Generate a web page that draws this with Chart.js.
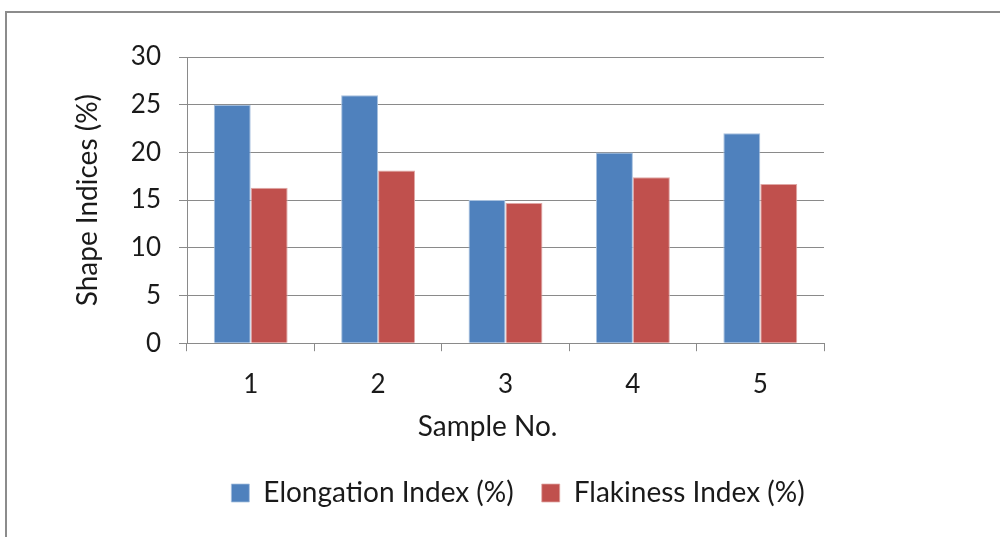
<!DOCTYPE html>
<html>
<head>
<meta charset="utf-8">
<script src="https://cdn.jsdelivr.net/npm/chart.js@4/dist/chart.umd.min.js"></script>
<style>
  html, body { margin: 0; padding: 0; background: #fff; }
  #wrap { position: relative; width: 1000px; height: 537px; overflow: hidden; }
  #frame { position: absolute; left: 5px; top: 11px; width: 1100px; height: 600px; border: 2px solid #8c8c8c; box-sizing: border-box; }
  canvas { position: absolute; left: 0; top: 0; }
</style>
</head>
<body>
<div id="wrap">
  <div id="frame"></div>
  <canvas id="c" width="1000" height="537"></canvas>
</div>
<script>
const categories = ['1', '2', '3', '4', '5'];
const elongation = [25, 26, 15, 20, 22];
const flakiness = [16.3, 18.1, 14.7, 17.4, 16.7];
const yTicks = [0, 5, 10, 15, 20, 25, 30];
const seriesNames = ['Elongation Index (%)', 'Flakiness Index (%)'];
const xTitle = 'Sample No.';
const yTitle = 'Shape Indices (%)';

const FONT = 'Lato, "Open Sans", sans-serif';
const gridCol = '#8a8a8a';
const txtCol = '#1a1a1a';

new Chart(document.getElementById('c'), {
  type: 'bar',
  data: {
    labels: categories,
    datasets: [
      { label: seriesNames[0], data: elongation, backgroundColor: '#4f81bd', borderColor: '#a7c0de', borderWidth: {top:1,left:1,right:1,bottom:0}, categoryPercentage: 0.58, barPercentage: 1.0 },
      { label: seriesNames[1], data: flakiness, backgroundColor: '#c0504d', borderColor: '#e0a8a6', borderWidth: {top:1,left:1,right:1,bottom:0}, categoryPercentage: 0.58, barPercentage: 1.0 }
    ]
  },
  options: {
    responsive: false,
    animation: false,
    devicePixelRatio: 1,
    layout: { padding: { left: 50, right: 14, top: 57, bottom: 20 } },
    plugins: {
      legend: {
        position: 'bottom',
        labels: { color: txtCol, font: { family: FONT, size: 28 }, boxWidth: 18, boxHeight: 18, padding: 28, useBorderRadius: false },
      },
      tooltip: { enabled: false },
    },
    scales: {
      x: {
        grid: { display: true, drawOnChartArea: false, drawTicks: true, tickLength: 8, color: gridCol, offset: true },
        border: { display: true, color: gridCol, width: 1 },
        ticks: { color: txtCol, font: { family: FONT, size: 26 }, padding: 18 },
        title: { display: true, text: xTitle + '\u00a0\u00a0\u00a0\u00a0\u00a0', color: txtCol, font: { family: FONT, size: 28 }, padding: { top: -8, bottom: 7 } }
      },
      y: {
        min: 0, max: 30,
        afterBuildTicks: (axis) => { axis.ticks = yTicks.map(v => ({ value: v })); },
        afterFit: (axis) => { axis.width = 137; },
        grid: { color: gridCol, drawTicks: true, tickLength: 8 },
        border: { display: true, color: gridCol, width: 1 },
        ticks: { color: txtCol, font: { family: FONT, size: 26 }, padding: 18 },
        title: { display: true, text: yTitle, color: txtCol, font: { family: FONT, size: 28 }, padding: { top: 21, bottom: 0 } }
      },
      yPad: {
        position: 'right',
        display: true,
        grid: { display: false, drawTicks: false },
        border: { display: false },
        ticks: { display: false },
        afterFit: (axis) => { axis.width = 162; }
      }
    }
  }
});
</script>
</body>
</html>
